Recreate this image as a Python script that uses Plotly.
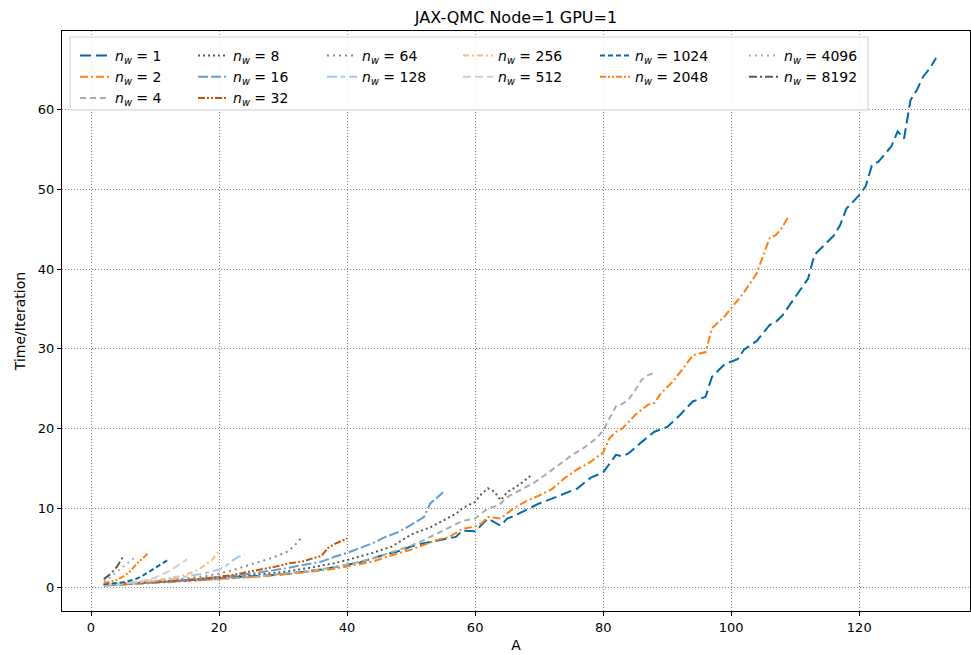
import plotly.graph_objects as go

# ---------------- data ----------------
A_1 = [2,4,6,8,10,12,14,16,18,20,22,24,26,28,30,32,34,36,38,40,42,44,46,48,50,52,54,56,57,58,60,62,64,65,66,68,70,72,74,76,78,80,81,82,83,84,86,88,90,92,94,96,97,99,101,102,104,106,107,108,110,112,113,114,116,117,118,120,121,122,123,125,126,127,128,129,130,131,132]
T_1 = [0.3,0.4,0.5,0.6,0.7,0.8,0.9,1.0,1.1,1.2,1.3,1.4,1.5,1.6,1.7,1.9,2.1,2.3,2.6,2.9,3.2,3.7,4.2,4.6,5.2,5.6,5.9,6.2,6.4,7.2,7.1,8.7,7.8,8.7,9.0,9.8,10.6,11.2,11.8,12.5,13.8,14.5,15.6,16.7,16.5,16.9,18.3,19.6,20.2,21.7,23.4,24.0,26.5,28.1,28.7,29.9,31.0,33.0,33.4,34.2,36.5,38.8,41.8,42.6,44.2,45.5,47.6,49.3,50.4,53.1,53.5,55.4,57.3,56.4,61.2,62.5,64.2,65.2,66.5]

A_2 = [2,6,10,14,18,22,26,30,34,38,40,44,47,50,52,54,56,58,60,61,62,64,66,68,70,72,74,76,78,80,81,82,83,85,87,88,89,91,93,94,96,97,99,100,102,104,105,106,107,108,109]
T_2 = [0.3,0.45,0.6,0.8,1.0,1.2,1.4,1.7,2.0,2.4,2.7,3.3,4.1,4.8,5.4,6.0,6.4,7.4,7.7,8.1,8.9,8.7,10.0,10.9,11.6,12.4,13.8,14.9,15.8,17.0,18.8,19.6,20.0,21.7,23.0,23.2,24.4,26.0,28.1,29.2,29.6,32.6,34.1,35.1,37.1,39.5,41.6,43.9,44.3,45.3,46.7]

A_4 = [2,6,10,14,18,22,26,30,34,38,40,44,47,50,52,54,56,58,60,62,63,64,65,67,69,71,73,75,77,79,80,81,82,83,84,85,86,87,88]
T_4 = [0.35,0.5,0.65,0.8,1.0,1.2,1.4,1.8,2.1,2.6,2.9,3.7,4.5,5.3,6.0,6.8,7.6,8.4,8.7,10.0,10.2,10.6,11.4,12.3,13.1,14.2,15.4,16.6,17.6,18.8,19.8,21.4,22.8,23.1,23.7,24.8,26.1,26.7,27.0]

A_8 = [2,6,10,14,18,22,26,30,34,38,40,44,47,50,53,55,57,58,60,61,62,63,64,65,67,69]
T_8 = [0.4,0.55,0.7,0.9,1.1,1.4,1.7,2.0,2.5,3.1,3.5,4.4,5.2,6.7,7.6,8.4,9.3,10.0,10.8,11.8,12.5,12.1,11.0,12.0,13.0,14.3]

A_16 = [2,6,10,14,18,22,26,30,34,36,38,40,42,44,46,48,50,52,53,55]
T_16 = [0.35,0.5,0.7,0.9,1.2,1.5,1.9,2.4,3.0,3.3,3.9,4.4,5.0,5.6,6.4,7.0,7.9,8.9,10.6,12.0]

A_32 = [2,6,10,14,18,22,26,29,31,33,35,36,37,38,40]
T_32 = [0.4,0.55,0.75,0.95,1.2,1.6,2.2,2.7,3.1,3.3,3.8,4.0,5.0,5.5,6.2]

A_64 = [2,6,10,14,18,20,22,24,26,28,30,31,32,33]
T_64 = [0.4,0.6,0.85,1.1,1.5,1.8,2.2,2.7,3.2,3.7,4.3,4.7,5.5,6.4]

A_128 = [2,6,10,14,16,18,20,21,22,23,24]
T_128 = [0.4,0.6,0.9,1.3,1.6,1.9,2.3,2.7,3.4,3.9,4.2]

A_256 = [2,4,6,8,10,12,14,16,17,18,19,20]
T_256 = [0.4,0.5,0.6,0.8,1.0,1.2,1.5,2.0,2.4,3.0,3.6,4.6]

A_512 = [2,4,6,8,10,12,13,14,15]
T_512 = [0.4,0.5,0.7,0.9,1.3,2.0,2.5,3.0,3.6]

A_1024 = [2,3,4,5,6,7,8,9,10,11,12]
T_1024 = [0.45,0.5,0.6,0.7,0.9,1.1,1.5,2.0,2.6,3.1,3.5]

A_2048 = [2,3,4,5,6,7,8,9]
T_2048 = [0.6,0.8,1.0,1.4,2.0,2.9,3.7,4.4]

A_4096 = [2,3,4,5,6,7]
T_4096 = [0.8,1.3,2.0,2.7,3.3,3.9]

A_8192 = [2,3,4,5]
T_8192 = [1.1,1.7,2.6,3.9]

NW = [1,2,4,8,16,32,64,128,256,512,1024,2048,4096,8192]
X_TICKS = [0,20,40,60,80,100,120]
Y_TICKS = [0,10,20,30,40,50,60]
TITLE = "JAX-QMC Node=1 GPU=1"

# ---------------- styles ----------------
series = {
    1: (A_1, T_1), 2: (A_2, T_2), 4: (A_4, T_4), 8: (A_8, T_8),
    16: (A_16, T_16), 32: (A_32, T_32), 64: (A_64, T_64), 128: (A_128, T_128),
    256: (A_256, T_256), 512: (A_512, T_512), 1024: (A_1024, T_1024),
    2048: (A_2048, T_2048), 4096: (A_4096, T_4096), 8192: (A_8192, T_8192),
}
colors = {
    1: "#006BA4", 2: "#FF800E", 4: "#ABABAB", 8: "#595959", 16: "#5F9ED1",
    32: "#C85200", 64: "#898989", 128: "#A2C8EC", 256: "#FFBC79", 512: "#CFCFCF",
    1024: "#006BA4", 2048: "#FF800E", 4096: "#ABABAB", 8192: "#595959",
}
dashes = {
    1: "11px,5px", 2: "8px,3px,2px,3px", 4: "6px,4px", 8: "2px,3px",
    16: "10px,3px,10px,3px,2px,3px", 32: "7px,2px,2px,2px,2px,2px",
    64: "2px,4px", 128: "10px,4px,4px,4px", 256: "6px,3px,2px,3px",
    512: "8px,4px", 1024: "5px,3px", 2048: "6px,2px,2px,2px,2px,2px",
    4096: "2px,4px", 8192: "8px,3px,2px,3px",
}
columns = [[1, 2, 4], [8, 16, 32], [64, 128], [256, 512], [1024, 2048], [4096, 8192]]
col_px = [75, 193, 322, 458, 595, 744]

W, H = 971, 655
ML, MR, MT, MB = 62, 1, 31, 44
PW, PH = W - ML - MR, H - MT - MB

fig = go.Figure()
legend_names = ["legend", "legend2", "legend3", "legend4", "legend5", "legend6"]
nw_legend = {}
for ci, col in enumerate(columns):
    for nw in col:
        nw_legend[nw] = legend_names[ci]

for nw in NW:
    x, y = series[nw]
    fig.add_trace(go.Scatter(
        x=x, y=y, mode="lines",
        name=f"<i>n</i><sub><i>w</i></sub> = {nw}",
        line=dict(color=colors[nw], width=2, dash=dashes[nw]),
        legend=nw_legend[nw], legendgroup=str(nw),
    ))

font = dict(family="DejaVu Sans", size=13, color="black")
layout_legends = {}
for ci, name in enumerate(legend_names):
    layout_legends[name] = dict(
        x=(col_px[ci] - ML) / PW, y=(MT + PH - 40) / PH,
        xanchor="left", yanchor="top",
        bgcolor="rgba(0,0,0,0)", borderwidth=0,
        font=dict(family="DejaVu Sans", size=14, color="black"),
        tracegroupgap=0, orientation="v",
    )

fig.update_layout(
    width=W, height=H,
    margin=dict(l=ML, r=MR, t=MT, b=MB),
    paper_bgcolor="white", plot_bgcolor="white",
    font=font,
    title=dict(text=TITLE, x=(516) / W, xanchor="center", y=1 - 17 / H, yanchor="middle",
               font=dict(family="DejaVu Sans", size=16, color="black")),
    showlegend=True,
    **layout_legends,
)

# legend frame
fig.add_shape(type="rect", xref="paper", yref="paper",
              x0=(70 - ML) / PW, x1=(868 - ML) / PW,
              y0=(MT + PH - 110) / PH, y1=(MT + PH - 37) / PH,
              line=dict(color="#d0d0d0", width=1),
              fillcolor="rgba(255,255,255,0.8)", layer="above")

axis_common = dict(
    showline=True, linecolor="black", linewidth=1, mirror=True,
    ticks="outside", ticklen=4, tickcolor="black",
    showgrid=True, gridcolor="#8c8c8c", griddash="1px,2px", gridwidth=1,
    zeroline=False, tickfont=dict(family="DejaVu Sans", size=13, color="black"),
)
fig.update_xaxes(range=[-4.53, 137.3], tickvals=X_TICKS,
                 title=dict(text="A", font=dict(family="DejaVu Sans", size=14), standoff=6),
                 **axis_common)
fig.update_yaxes(range=[-2.9, 69.9], tickvals=Y_TICKS,
                 title=dict(text="Time/Iteration", font=dict(family="DejaVu Sans", size=14), standoff=8),
                 **axis_common)

fig.write_html("out.html")
